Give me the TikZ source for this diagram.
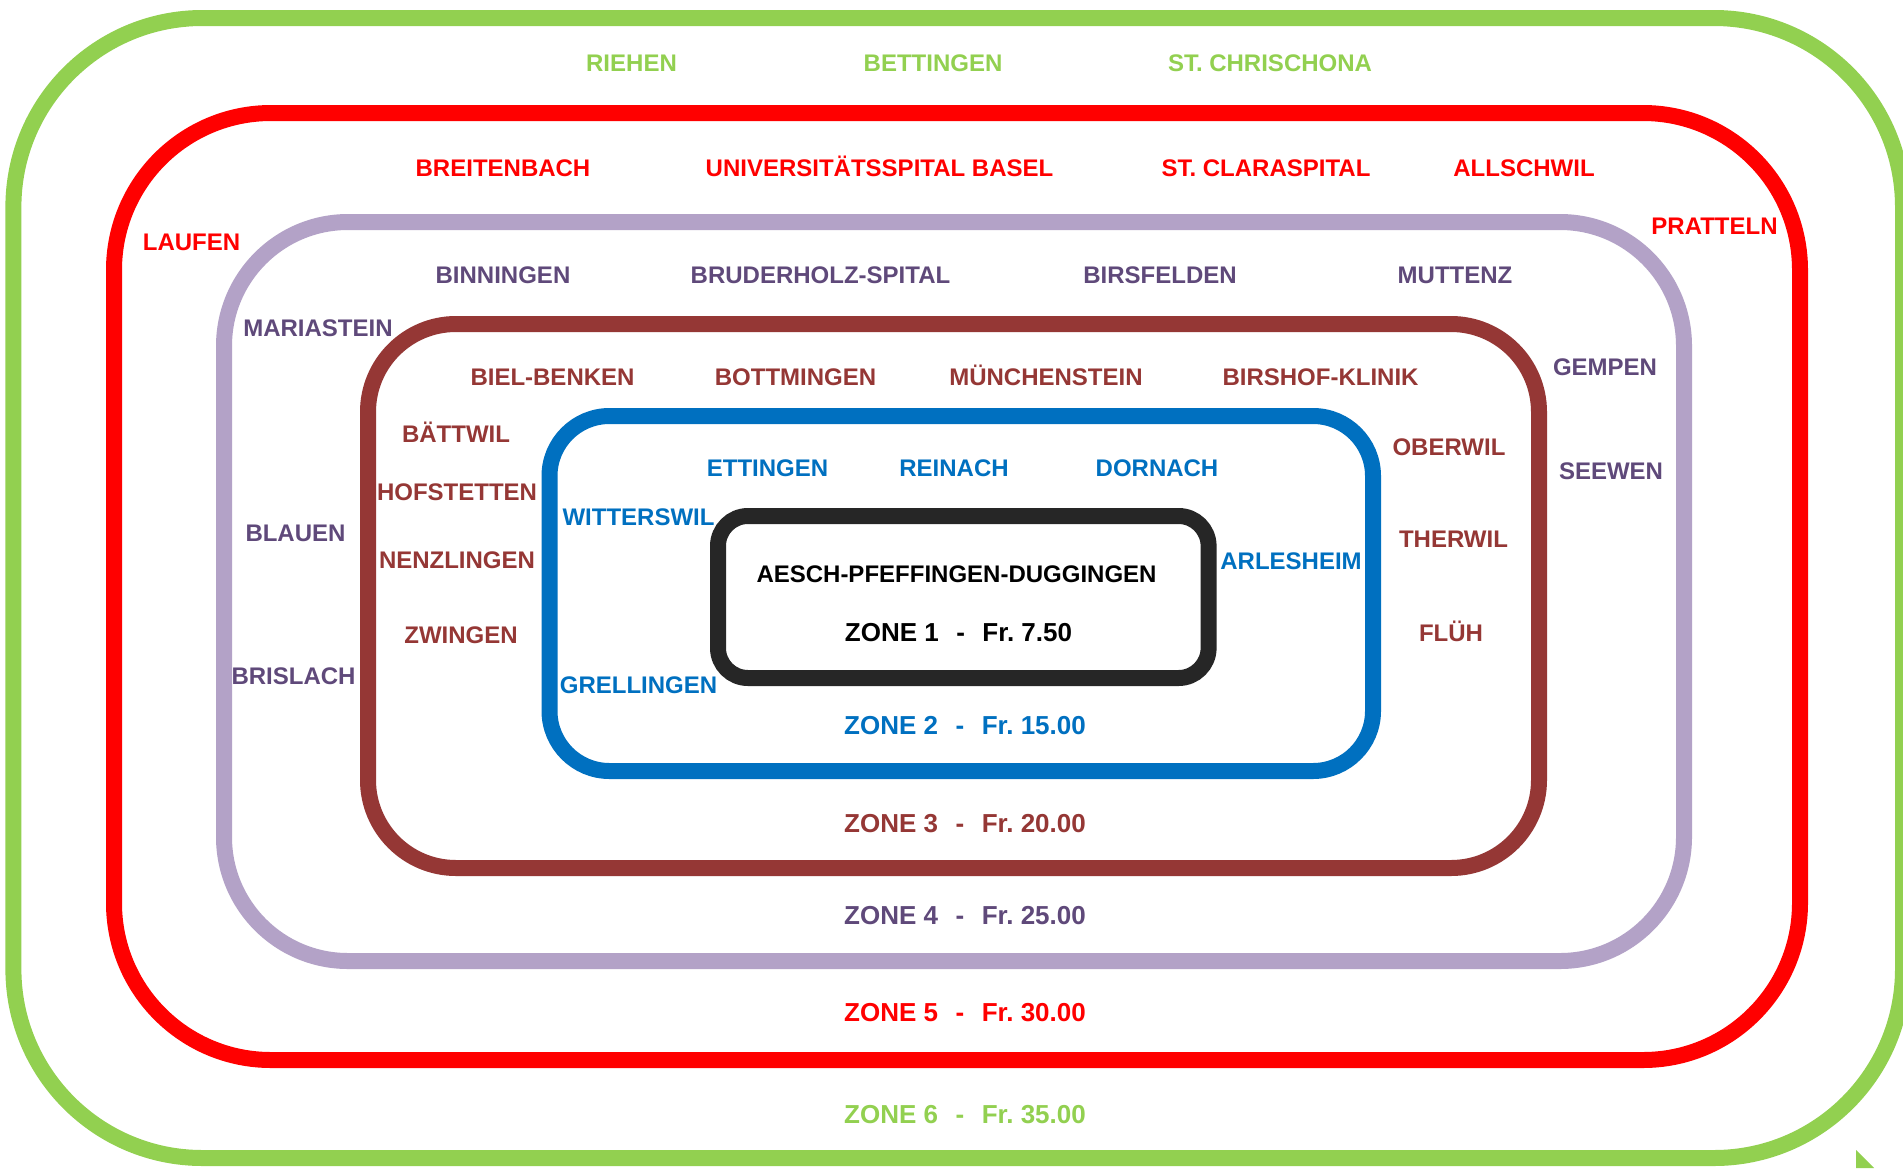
\documentclass[tikz,border=0pt]{standalone}
\usepackage{fontspec}
\setmainfont{Liberation Sans}
\frenchspacing
\definecolor{cgreen}{HTML}{92D050}
\definecolor{cred}{HTML}{FF0000}
\definecolor{clilac}{HTML}{B3A2C7}
\definecolor{cpurple}{HTML}{5F497A}
\definecolor{cbrown}{HTML}{953735}
\definecolor{cblue}{HTML}{0070C0}
\definecolor{cblack}{HTML}{262626}
\newcommand{\gap}{\hspace{17.5pt}}
\begin{document}
\begin{tikzpicture}[x=1pt,y=-1pt,
  lbl/.style={font=\fontsize{24}{28}\selectfont\bfseries, inner sep=0pt, text height=17.2pt, text depth=0pt, anchor=center},
  zlbl/.style={font=\fontsize{26}{30}\selectfont\bfseries, inner sep=0pt, text height=18.6pt, text depth=0pt, anchor=west},
  zoneline/.style={line width=16pt, rounded corners=#1},
  z6/.style={text=cgreen},
  z5/.style={text=cred},
  z4/.style={text=cpurple},
  z3/.style={text=cbrown},
  z2/.style={text=cblue},
  z1/.style={text=black}]
\useasboundingbox (0,0) rectangle (1903,1168);
\fill[white] (0,0) rectangle (1903,1168);
\clip (0,0) rectangle (1903,1168);

% zone outlines
\draw[zoneline=189pt, cgreen] (13.4,18) rectangle (1903,1158);
\draw[zoneline=157pt, cred] (114,113) rectangle (1800,1060);
\draw[zoneline=124pt, clilac] (224,222) rectangle (1684,961);
\draw[zoneline=88pt, cbrown] (368,324) rectangle (1539,868);
\draw[zoneline=60pt, cblue] (549.5,416) rectangle (1373,771);
\draw[zoneline=30pt, cblack] (718,516) rectangle (1208.6,678);

% small green mark bottom right
\fill[cgreen] (1856,1150) -- (1856,1168) -- (1874,1168) -- cycle;

% zone 6
\node[lbl,z6] (riehen) at (631.5,63) {RIEHEN};
\node[lbl,z6] (bettingen) at (933,63) {BETTINGEN};
\node[lbl,z6] (chrischona) at (1270,63) {ST. CHRISCHONA};
\node[zlbl,z6] (zone6) at (844,1114.5) {ZONE 6\gap-\gap Fr. 35.00};

% zone 5
\node[lbl,z5] (breitenbach) at (503,168) {BREITENBACH};
\node[lbl,z5] (unispital) at (879.5,168) {UNIVERSITÄTSSPITAL BASEL};
\node[lbl,z5] (claraspital) at (1266,168) {ST. CLARASPITAL};
\node[lbl,z5] (allschwil) at (1524,168) {ALLSCHWIL};
\node[lbl,z5] (laufen) at (191.5,241.5) {LAUFEN};
\node[lbl,z5] (pratteln) at (1714.5,225.5) {PRATTELN};
\node[zlbl,z5] (zone5) at (844,1012) {ZONE 5\gap-\gap Fr. 30.00};

% zone 4
\node[lbl,z4] (binningen) at (503,274.5) {BINNINGEN};
\node[lbl,z4] (bruderholz) at (820.5,274.5) {BRUDERHOLZ-SPITAL};
\node[lbl,z4] (birsfelden) at (1160,274.5) {BIRSFELDEN};
\node[lbl,z4] (muttenz) at (1455,274.5) {MUTTENZ};
\node[lbl,z4] (mariastein) at (318,328) {MARIASTEIN};
\node[lbl,z4] (gempen) at (1605,366.5) {GEMPEN};
\node[lbl,z4] (seewen) at (1611,470.5) {SEEWEN};
\node[lbl,z4] (blauen) at (295.5,532.5) {BLAUEN};
\node[lbl,z4] (brislach) at (293.5,675.5) {BRISLACH};
\node[zlbl,z4] (zone4) at (844,915.5) {ZONE 4\gap-\gap Fr. 25.00};

% zone 3
\node[lbl,z3] (bielbenken) at (552.5,377) {BIEL-BENKEN};
\node[lbl,z3] (bottmingen) at (795.5,377) {BOTTMINGEN};
\node[lbl,z3] (muenchenstein) at (1046,377) {MÜNCHENSTEIN};
\node[lbl,z3] (birshof) at (1320.5,377) {BIRSHOF-KLINIK};
\node[lbl,z3] (baettwil) at (456,434) {BÄTTWIL};
\node[lbl,z3] (hofstetten) at (457,491.5) {HOFSTETTEN};
\node[lbl,z3] (nenzlingen) at (457,559.5) {NENZLINGEN};
\node[lbl,z3] (zwingen) at (461,634.5) {ZWINGEN};
\node[lbl,z3] (oberwil) at (1449,446.5) {OBERWIL};
\node[lbl,z3] (therwil) at (1453.5,538.5) {THERWIL};
\node[lbl,z3] (flueh) at (1451,633) {FLÜH};
\node[zlbl,z3] (zone3) at (844,823.5) {ZONE 3\gap-\gap Fr. 20.00};

% zone 2
\node[lbl,z2] (ettingen) at (767.5,468) {ETTINGEN};
\node[lbl,z2] (reinach) at (954,468) {REINACH};
\node[lbl,z2] (dornach) at (1157,468) {DORNACH};
\node[lbl,z2] (witterswil) at (638.5,516.5) {WITTERSWIL};
\node[lbl,z2] (grellingen) at (638.5,684.5) {GRELLINGEN};
\node[lbl,z2] (arlesheim) at (1291,561) {ARLESHEIM};
\node[zlbl,z2] (zone2) at (844,725.5) {ZONE 2\gap-\gap Fr. 15.00};

% zone 1
\node[lbl,z1] (aesch) at (956.5,574) {AESCH-PFEFFINGEN-DUGGINGEN};
\node[lbl,z1,font=\fontsize{26}{30}\selectfont\bfseries, text height=18.6pt] (zone1) at (958.5,632.5) {ZONE 1\gap-\gap Fr. 7.50};
\end{tikzpicture}
\end{document}
